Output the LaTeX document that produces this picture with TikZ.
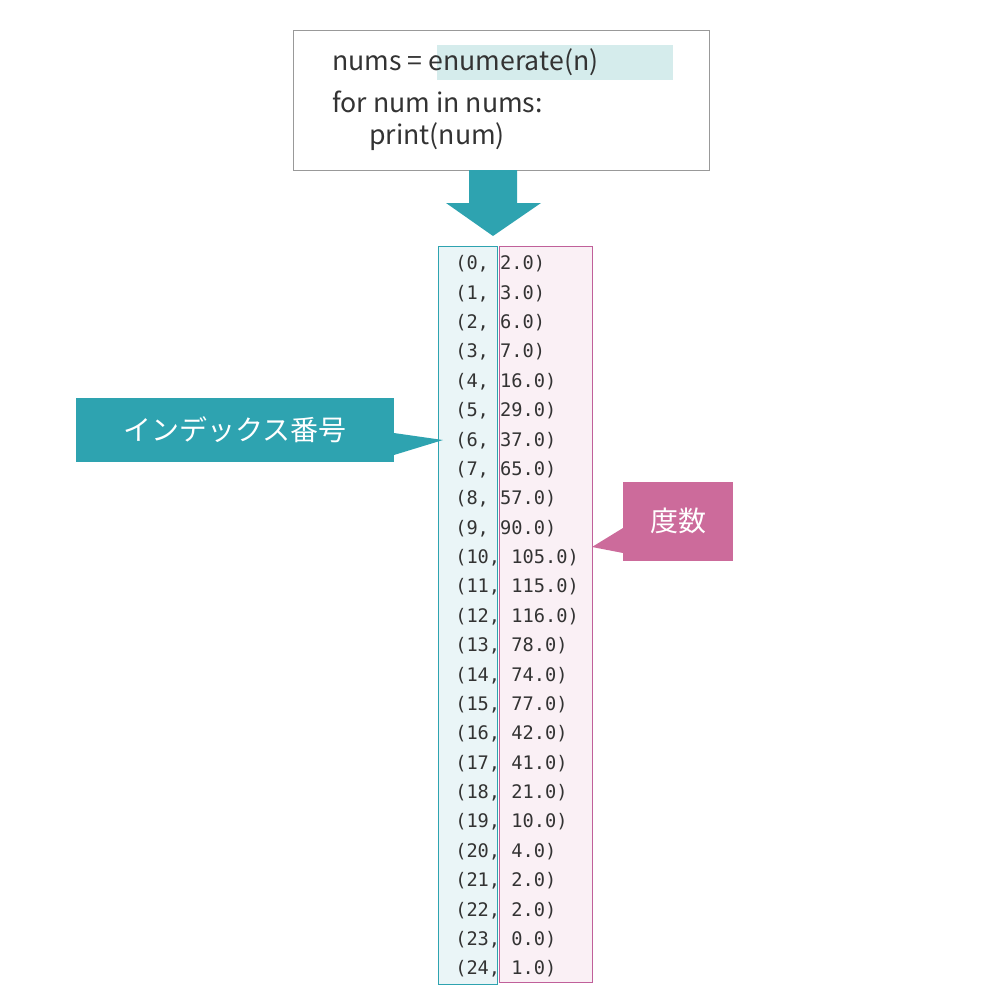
\documentclass[tikz,border=0pt]{standalone}
\usepackage{fontspec}
\setmainfont{Noto Sans CJK JP}
\setmonofont{DejaVu Sans Mono}
\usetikzlibrary{positioning}
\definecolor{teal1}{RGB}{46,163,176}
\definecolor{tealbg}{RGB}{213,236,236}
\definecolor{tealpale}{RGB}{234,245,247}
\definecolor{pink1}{RGB}{204,107,155}
\definecolor{pinkline}{RGB}{192,96,154}
\definecolor{pinkpale}{RGB}{250,240,245}
\definecolor{codegray}{RGB}{51,51,51}
\tikzset{
  codeline/.style={anchor=west,inner sep=0pt,font=\fontsize{20}{24}\selectfont,text=codegray},
  rowtext/.style={anchor=west,inner sep=0pt,font=\ttfamily\fontsize{14}{16}\selectfont,text=codegray},
  callout/.style={inner sep=0pt,text=white,font=\fontsize{21}{24}\selectfont}
}
\begin{document}
\begin{tikzpicture}[x=0.75pt,y=-0.75pt]
\useasboundingbox (0,0) rectangle (1000,1004);
%code box
\draw [gray!80] (293,30) rectangle (709,170);
\fill [tealbg] (437,45) rectangle (673,80);
\node [codeline] (l1) at (332,62) {nums = enumerate(n)};
\node [codeline] (l2) at (332,102) {for num in nums:};
\node [codeline] (l3) at (369,137) {print(num)};
%block arrow
\fill [teal1] (469,170) -- (517,170) -- (517,203) -- (541,203) -- (493,236) -- (446,203) -- (469,203) -- cycle;
%columns
\draw [teal1, fill=tealpale] (438,246) rectangle (497,984);
\draw [pinkline, fill=pinkpale] (499,246) rectangle (592,982);
\foreach \v [count=\i from 0] in {2.0,3.0,6.0,7.0,16.0,29.0,37.0,65.0,57.0,90.0,105.0,115.0,116.0,78.0,74.0,77.0,42.0,41.0,21.0,10.0,4.0,2.0,2.0,0.0,1.0}{
  \ifnum\i<10
    \node [rowtext] (r\i) at (455,264+\i*29.375) {(\i,\ \v)};
  \else
    \node [rowtext] (r\i) at (455,264+\i*29.375) {(\i,\ \v)};
  \fi
}
%callouts
\fill [teal1] (76,398) rectangle (394,462);
\fill [teal1] (394,433) -- (443,440) -- (394,455) -- cycle;
\node [callout] (idx) at (235,430) {インデックス番号};
\fill [pink1] (623,482) rectangle (733,561);
\fill [pink1] (623,528) -- (592,547) -- (623,553) -- cycle;
\node [callout] (freq) at (678,521) {度数};
\end{tikzpicture}
\end{document}
